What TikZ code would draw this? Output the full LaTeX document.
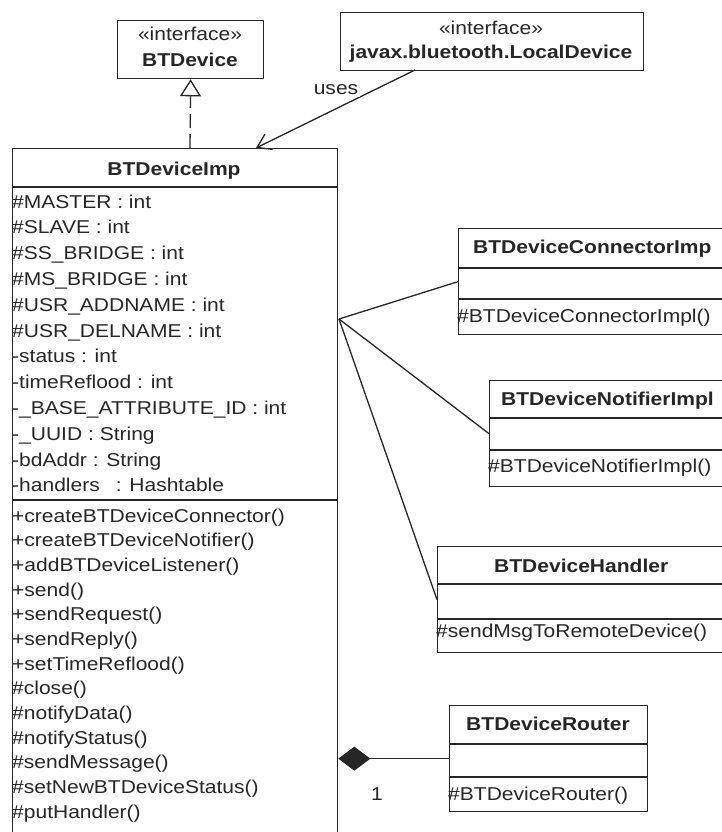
\documentclass[tikz,border=0pt]{standalone}
\usepackage{fontspec}
\setmainfont{Liberation Sans}[FakeStretch=1.13]
\usetikzlibrary{arrows.meta}
\begin{document}
\begin{tikzpicture}[x=1pt,y=-1pt,
  line/.style={draw=black!85, line width=1.3pt},
  box/.style={line, fill=white, rectangle, inner sep=0pt, anchor=north west},
  txt/.style={inner sep=0pt, anchor=base west, text=black!85,
    font=\fontsize{18.6}{22}\selectfont},
  ctxt/.style={txt, anchor=base},
  ttl/.style={ctxt, font=\fontsize{18.6}{22}\selectfont\bfseries},
  lttl/.style={txt, font=\fontsize{18.6}{22}\selectfont\bfseries}]
\clip (0,0) rectangle (722,832);
\fill[white] (0,0) rectangle (722,832);

% interfaces
\node[box, minimum width=146pt, minimum height=58pt] (btd) at (117,20) {};
\node[ctxt] (btdst) at (190,41) {«interface»};
\node[ttl] (btdname) at (190,67) {BTDevice};

\node[box, minimum width=303pt, minimum height=58pt] (ld) at (340,12) {};
\node[ctxt] (ldst) at (491,35) {«interface»};
\node[ttl] (ldname) at (491,59) {javax.bluetooth.LocalDevice};

% implementation class
\node[box, minimum width=325pt, minimum height=700pt] (imp) at (12,148) {};
\draw[line] (12,187) -- (337,187);
\draw[line] (12,500) -- (337,500);
\node[ttl] (impname) at (174,175) {BTDeviceImp};
\foreach \t [count=\i from 0] in {%
  \#MASTER : int, \#SLAVE : int, \#SS\_BRIDGE : int, \#MS\_BRIDGE : int,
  \#USR\_ADDNAME : int, \#USR\_DELNAME : int, -status : int,
  -timeReflood : int, -\_BASE\_ATTRIBUTE\_ID : int, -\_UUID : String,
  -bdAddr : String, -handlers\hspace{16pt}: Hashtable}
  \node[txt] (attr\i) at (12,208+25.8*\i) {\t};
\foreach \t [count=\i from 0] in {%
  +createBTDeviceConnector(), +createBTDeviceNotifier(),
  +addBTDeviceListener(), +send(), +sendRequest(), +sendReply(),
  +setTimeReflood(), \#close(), \#notifyData(), \#notifyStatus(),
  \#sendMessage(), \#setNewBTDeviceStatus(), \#putHandler()}
  \node[txt] (op\i) at (12,522+24.67*\i) {\t};

% collaborating classes
\node[box, minimum width=282pt, minimum height=106pt] (conn) at (458,228) {};
\draw[line] (458,268) -- (740,268);
\draw[line] (458,299) -- (740,299);
\node[lttl] (connname) at (473,253) {BTDeviceConnectorImp};
\node[txt] (connop) at (457,322) {\#BTDeviceConnectorImpl()};

\node[box, minimum width=251pt, minimum height=106pt] (notif) at (489,380) {};
\draw[line] (489,418) -- (740,418);
\draw[line] (489,450) -- (740,450);
\node[lttl] (notifname) at (501,405) {BTDeviceNotifierImpl};
\node[txt] (notifop) at (488,472) {\#BTDeviceNotifierImpl()};

\node[box, minimum width=303pt, minimum height=106pt] (hand) at (437,546) {};
\draw[line] (437,584) -- (740,584);
\draw[line] (437,619) -- (740,619);
\node[lttl] (handname) at (494,572) {BTDeviceHandler};
\node[txt] (handop) at (436,637) {\#sendMsgToRemoteDevice()};

\node[box, minimum width=198pt, minimum height=106pt] (router) at (449,705) {};
\draw[line] (449,744) -- (647,744);
\draw[line] (449,777) -- (647,777);
\node[ttl] (routername) at (548,730) {BTDeviceRouter};
\node[txt] (routerop) at (448,800) {\#BTDeviceRouter()};

% relationships
\coordinate (hub) at (339,319);
\draw[line] (hub) -- (conn.west);
\draw[line] (hub) -- (notif.west);
\draw[line] (hub) -- (hand.west);

\draw[line, {Diamond[length=32pt,width=24pt]}-] (imp.east |- router.west) -- (router.west);
\node[txt] (mult) at (371,800) {1};

\coordinate (realfrom) at (190,148);
\draw[line, dash pattern=on 14pt off 6pt,
  -{Triangle[open, length=17pt, width=21pt, fill=white]}] (realfrom) -- (btd.south);

\coordinate (usesfrom) at (415,70);
\coordinate (usesto) at (256,148);
\draw[line, -{Straight Barb[length=13pt,width=17pt]}] (usesfrom) -- (usesto);
\node[ctxt, fill=white, inner sep=2pt] (uses) at (336,95) {uses};
\end{tikzpicture}
\end{document}
